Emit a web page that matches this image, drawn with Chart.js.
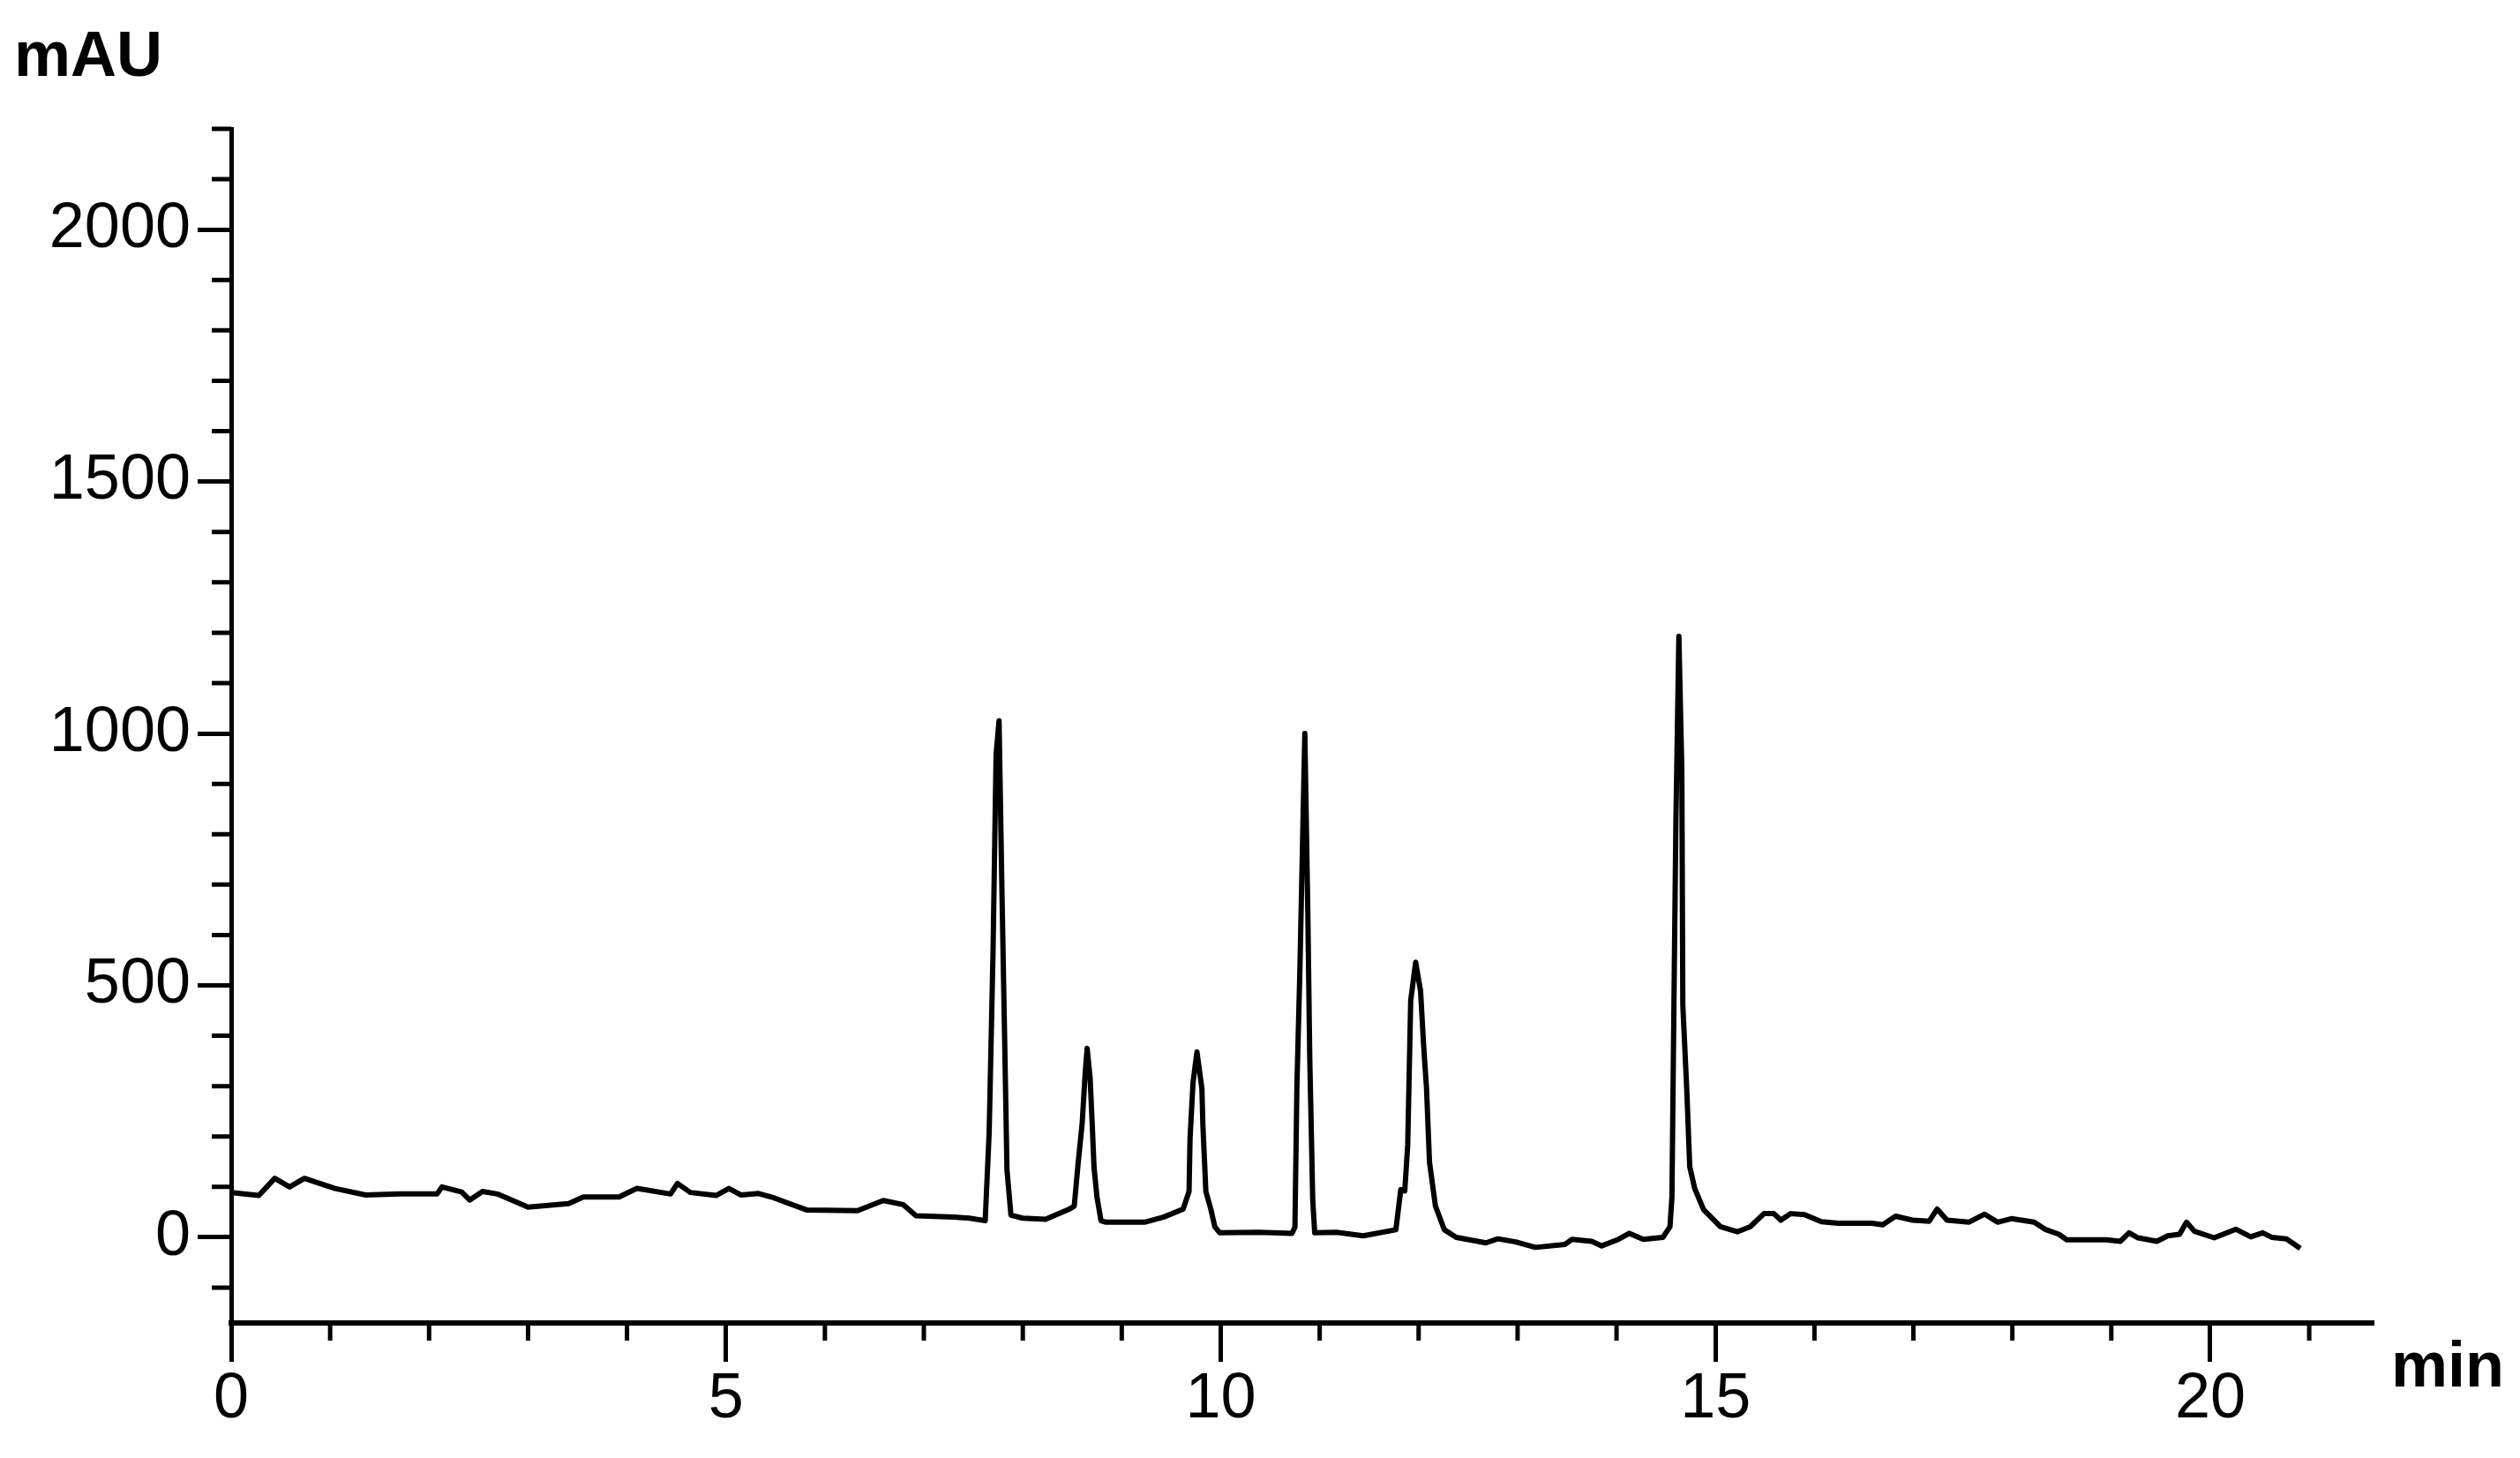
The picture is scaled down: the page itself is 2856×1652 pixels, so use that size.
<!DOCTYPE html>
<html>
<head>
<meta charset="utf-8">
<title>Chromatogram</title>
<script src="https://cdn.jsdelivr.net/npm/chart.js@4.4.1/dist/chart.umd.min.js"></script>
<style>
  html, body { margin: 0; padding: 0; background: #fff; }
  #wrap { width: 2856px; height: 1652px; }
</style>
</head>
<body>
<div id="wrap"><canvas id="chromChart" width="2856" height="1652"></canvas></div>
<script>
// retention time (min) and detector signal (mAU)
const timeMin = [
  0.00, 0.28, 0.44, 0.59, 0.74, 1.05, 1.36, 1.70, 2.08, 2.13,
  2.33, 2.41, 2.54, 2.69, 3.00, 3.41, 3.56, 3.92, 4.10, 4.44,
  4.51, 4.64, 4.90, 5.03, 5.15, 5.33, 5.46, 5.82, 6.33, 6.59,
  6.79, 6.92, 7.30, 7.46, 7.62, 7.66, 7.70, 7.73, 7.76, 7.79,
  7.82, 7.84, 7.88, 8.00, 8.23, 8.46, 8.52, 8.56, 8.60, 8.63,
  8.65, 8.68, 8.70, 8.72, 8.75, 8.79, 8.84, 9.23, 9.42, 9.62,
  9.68, 9.69, 9.72, 9.76, 9.81, 9.82, 9.85, 9.90, 9.94, 9.99,
  10.39, 10.72, 10.75, 10.77, 10.80, 10.85, 10.88, 10.90, 10.93, 10.95,
  11.17, 11.44, 11.77, 11.82, 11.86, 11.89, 11.92, 11.97, 12.02, 12.05,
  12.08, 12.11, 12.17, 12.26, 12.38, 12.68, 12.80, 12.98, 13.18, 13.48,
  13.55, 13.75, 13.85, 14.02, 14.13, 14.27, 14.47, 14.54, 14.56, 14.58,
  14.60, 14.63, 14.66, 14.67, 14.71, 14.74, 14.79, 14.88, 15.05, 15.22,
  15.35, 15.49, 15.59, 15.66, 15.76, 15.90, 16.07, 16.24, 16.58, 16.69,
  16.82, 16.99, 17.16, 17.24, 17.34, 17.56, 17.72, 17.85, 17.99, 18.22,
  18.33, 18.47, 18.55, 18.95, 19.09, 19.18, 19.27, 19.46, 19.57, 19.69,
  19.76, 19.84, 20.04, 20.26, 20.41, 20.53, 20.62, 20.77, 20.91
];
const signalMAU = [
  89, 83, 117, 100, 117, 97, 84, 86, 86, 100,
  90, 74, 91, 86, 60, 67, 80, 80, 97, 86,
  107, 89, 83, 97, 84, 87, 80, 54, 53, 73,
  65, 43, 40, 38, 33, 208, 575, 958, 1025, 678,
  355, 134, 44, 38, 36, 55, 62, 149, 226, 325,
  375, 317, 231, 138, 79, 33, 30, 30, 40, 56,
  91, 196, 307, 368, 295, 222, 91, 56, 21, 9,
  10, 8, 20, 300, 529, 1000, 649, 354, 74, 9,
  10, 3, 15, 95, 92, 184, 470, 546, 488, 383,
  295, 149, 62, 15, 0, -11, -3, -9, -20, -14,
  -4, -8, -17, -4, 8, -4, 0, 21, 80, 461,
  825, 1193, 926, 461, 292, 140, 97, 55, 21, 11,
  21, 47, 47, 34, 47, 45, 31, 28, 28, 25,
  42, 34, 32, 56, 34, 30, 46, 30, 37, 30,
  16, 6, -5, -5, -8, 9, -1, -8, 3, 6,
  30, 12, -1, 16, 1, 9, 0, -3, -22
];

const xMajorTicks = [0, 5, 10, 15, 20];
const yMajorTicks = [0, 500, 1000, 1500, 2000];
const xRange = [0, 21.65];
const yRange = [-170, 2200];

const tickFont = { family: '"Liberation Sans", Arial, sans-serif', size: 72 };

// short minor tick marks plus the two axis unit labels
const axisExtras = {
  id: 'axisExtras',
  afterDraw(chart) {
    const { ctx, scales: { x, y } } = chart;
    ctx.save();
    ctx.strokeStyle = '#000';
    ctx.lineWidth = 5;
    ctx.beginPath();
    x.ticks.forEach(t => {
      if (xMajorTicks.includes(t.value)) return;
      const px = x.getPixelForValue(t.value);
      ctx.moveTo(px, x.top);
      ctx.lineTo(px, x.top + 20);
    });
    y.ticks.forEach(t => {
      if (yMajorTicks.includes(t.value)) return;
      const py = y.getPixelForValue(t.value);
      ctx.moveTo(y.right, py);
      ctx.lineTo(y.right - 22, py);
    });
    ctx.stroke();

    ctx.fillStyle = '#000';
    ctx.font = 'bold 72px "Liberation Sans", Arial, sans-serif';
    ctx.textAlign = 'left';
    ctx.textBaseline = 'alphabetic';
    ctx.fillText('mAU', 16, y.top - 60);
    ctx.fillText('min', x.right + 20, x.top + 72);
    ctx.restore();
  }
};

const points = timeMin.map((t, i) => ({ x: t, y: signalMAU[i] }));

new Chart(document.getElementById('chromChart'), {
  type: 'line',
  data: {
    datasets: [{
      data: points,
      borderColor: '#000',
      borderWidth: 6,
      borderJoinStyle: 'round',
      pointRadius: 0,
      tension: 0,
      fill: false
    }]
  },
  options: {
    responsive: false,
    animation: false,
    layout: { padding: { top: 146, right: 166, bottom: 0, left: 0 } },
    plugins: {
      legend: { display: false },
      tooltip: { enabled: false }
    },
    scales: {
      x: {
        type: 'linear',
        min: xRange[0],
        max: xRange[1],
        afterBuildTicks(scale) {
          const ticks = [];
          for (let v = 0; v <= 21; v++) ticks.push({ value: v });
          scale.ticks = ticks;
        },
        afterFit(scale) { scale.height = 153; },
        ticks: {
          autoSkip: false,
          maxRotation: 0,
          padding: 0,
          color: '#000',
          font: tickFont,
          callback: v => xMajorTicks.includes(v) ? String(v) : ''
        },
        grid: {
          drawOnChartArea: false,
          tickLength: 44,
          tickWidth: 5,
          tickColor: c => xMajorTicks.includes(c.tick.value) ? '#000' : 'rgba(0,0,0,0)'
        },
        border: { display: true, color: '#000', width: 6 }
      },
      y: {
        type: 'linear',
        min: yRange[0],
        max: yRange[1],
        afterBuildTicks(scale) {
          const ticks = [];
          for (let v = -100; v <= 2200; v += 100) ticks.push({ value: v });
          scale.ticks = ticks;
        },
        afterFit(scale) { scale.width = 262; },
        ticks: {
          autoSkip: false,
          padding: 8,
          color: '#000',
          font: tickFont,
          callback: v => yMajorTicks.includes(v) ? String(v) : ''
        },
        grid: {
          drawOnChartArea: false,
          tickLength: 38,
          tickWidth: 5,
          tickColor: c => yMajorTicks.includes(c.tick.value) ? '#000' : 'rgba(0,0,0,0)'
        },
        border: { display: true, color: '#000', width: 5 }
      }
    }
  },
  plugins: [axisExtras]
});
</script>
</body>
</html>
